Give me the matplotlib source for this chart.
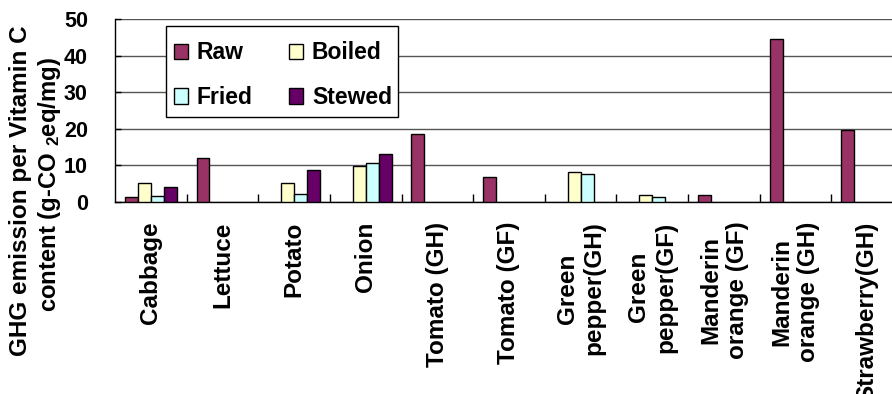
import numpy as np
import matplotlib
matplotlib.use("Agg")
import matplotlib.pyplot as plt
from matplotlib.patches import Rectangle

plt.rcParams['font.family'] = ['Liberation Sans', 'DejaVu Sans']
plt.rcParams['font.weight'] = 'bold'
plt.rcParams['mathtext.fontset'] = 'custom'
plt.rcParams['mathtext.rm'] = 'Liberation Sans:bold'
plt.rcParams['mathtext.bf'] = 'Liberation Sans:bold'
plt.rcParams['mathtext.default'] = 'rm'

categories = ["Cabbage", "Lettuce", "Potato", "Onion", "Tomato (GH)", "Tomato (GF)",
              "Green\npepper(GH)", "Green\npepper(GF)", "Manderin\norange (GF)",
              "Manderin\norange (GH)", "Strawberry(GH)"]

nan = np.nan
raw    = [1.3, 11.9, nan, nan, 18.5, 6.7, nan, nan, 1.9, 44.4, 19.6]
boiled = [5.1, nan, 5.1, 9.8, nan, nan, 8.1, 1.9, nan, nan, nan]
fried  = [1.7, nan, 2.1, 10.6, nan, nan, 7.6, 1.5, nan, nan, nan]
stewed = [4.0, nan, 8.8, 13.1, nan, nan, nan, nan, nan, nan, nan]

series = [("Raw", raw, "#993366"),
          ("Boiled", boiled, "#FFFFCC"),
          ("Fried", fried, "#CCFFFF"),
          ("Stewed", stewed, "#660066")]

W, H = 892, 394
fig = plt.figure(figsize=(W / 100, H / 100), dpi=100)
# plot area: left edge at 115 px, right edge runs past the canvas
ax_l, ax_r, ax_t, ax_b = 115, 903, 19, 202
ax = fig.add_axes([ax_l / W, 1 - ax_b / H, (ax_r - ax_l) / W, (ax_b - ax_t) / H])


def to_axes(px, py):
    return (px - ax_l) / (ax_r - ax_l), (ax_b - py) / (ax_b - ax_t)


x = np.arange(len(categories))
bw = 0.181
handles = {}
for i, (name, vals, color) in enumerate(series):
    v = np.array(vals, dtype=float)
    m = ~np.isnan(v)
    pos = x - 2 * bw + bw * (i + 0.5)
    bars = ax.bar(pos[m], v[m], width=bw, color=color, edgecolor='black',
                  linewidth=1.0, zorder=3, label=name)
    handles[name] = bars

ax.set_xlim(-0.5, len(categories) - 0.5)
ax.set_ylim(0, 50)
ax.set_yticks(np.arange(0, 51, 10))
ax.yaxis.grid(True, color='#555555', linewidth=1.0, zorder=0)
ax.set_axisbelow(True)

for s in ['top', 'right']:
    ax.spines[s].set_visible(False)
ax.spines['left'].set_linewidth(1.0)
ax.spines['bottom'].set_linewidth(1.0)

ax.set_xticks(x)
ax.set_xticklabels(categories, rotation=90, ha='center', va='top',
                   multialignment='center', fontsize=17.5, fontweight='bold')
ax.set_xticks(np.arange(0.5, len(categories) - 0.5, 1.0), minor=True)
ax.tick_params(axis='x', which='major', length=0, pad=14)
ax.tick_params(axis='x', which='minor', direction='in', length=6, width=1)
ax.tick_params(axis='y', direction='in', length=4, width=1, pad=19.5,
               labelsize=15.5)
for t in ax.get_yticklabels():
    t.set_fontweight('bold')

# two-line y axis title
fig.text(21 / W, 1 - 191 / H, "GHG emission per Vitamin C", rotation=90,
         ha='center', va='center', fontsize=17.5, fontweight='bold')
fig.text(50 / W, 1 - 184 / H, r"content (g-CO $_{2}$eq/mg)", rotation=90,
         ha='center', va='center', fontsize=17.2, fontweight='bold')

# legend box
fx0, fy0 = to_axes(165.7, 117)
fx1, fy1 = to_axes(397.7, 26)
frame = Rectangle((fx0, fy0), fx1 - fx0, fy1 - fy0, transform=ax.transAxes,
                  facecolor='white', edgecolor='black', linewidth=1.0, zorder=4)
ax.add_patch(frame)

order = ["Raw", "Fried", "Boiled", "Stewed"]
leg = ax.legend([handles[n] for n in order], order, ncol=2,
                loc='upper left', bbox_to_anchor=to_axes(174, 41.3),
                prop={'size': 16.5, 'weight': 'bold'}, frameon=False,
                borderpad=0, handlelength=0.62, handleheight=0.65,
                handletextpad=0.37, columnspacing=1.6, labelspacing=0.945,
                borderaxespad=0)
leg.set_zorder(5)

fig.savefig("out.png", dpi=100)
